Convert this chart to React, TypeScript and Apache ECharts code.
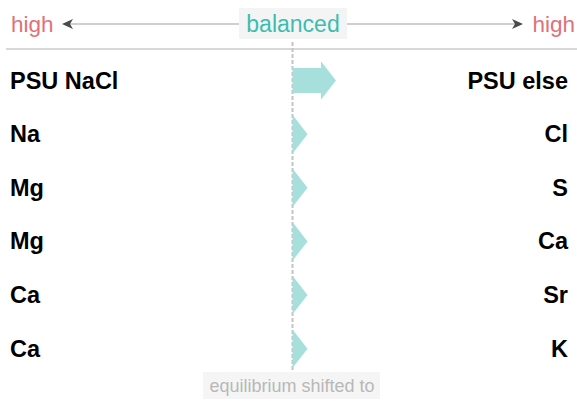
import React, { useEffect, useRef } from "react";
import * as echarts from "echarts";

const leftLabels = ["PSU NaCl", "Na", "Mg", "Mg", "Ca", "Ca"];
const rightLabels = ["PSU else", "Cl", "S", "Ca", "Sr", "K"];
const shiftValues = [0.1, 0, 0, 0, 0, 0];
const headerLeft = "high";
const headerCenter = "balanced";
const headerRight = "high";
const footerText = "equilibrium shifted to";

const ARROW = "#a6dfdb";
const RED = "#e0707a";
const TEAL = "#3dbcb0";
const FONT = "Arial, 'Liberation Sans', sans-serif";

export default function App() {
  const ref = useRef<HTMLDivElement>(null);
  useEffect(() => {
    if (!ref.current) return;
    const chart = echarts.init(ref.current, null, { renderer: "svg" });
    const cx = 292.5;
    chart.setOption({
      animation: false,
      grid: { left: 8, right: 0, top: 53.7, bottom: 27.5 },
      xAxis: { type: "value", min: -1, max: 1, show: false },
      yAxis: [
        {
          type: "category",
          data: leftLabels,
          inverse: true,
          position: "left",
          axisLine: { show: false },
          axisTick: { show: false },
          splitLine: { show: false },
          axisLabel: {
            inside: true,
            margin: 2,
            align: "left",
            fontWeight: "bold",
            fontSize: 23.5,
            color: "#000",
            fontFamily: FONT,
          },
        },
        {
          type: "category",
          data: rightLabels,
          inverse: true,
          position: "right",
          axisLine: { show: false },
          axisTick: { show: false },
          splitLine: { show: false },
          axisLabel: {
            inside: true,
            margin: 9,
            align: "right",
            fontWeight: "bold",
            fontSize: 23.5,
            color: "#000",
            fontFamily: FONT,
          },
        },
      ],
      graphic: [
        { type: "line", shape: { x1: 6, y1: 49, x2: 577, y2: 49 }, style: { stroke: "#d8d8d8", lineWidth: 2 }, z: 1 },
        { type: "line", shape: { x1: cx, y1: 42, x2: cx, y2: 376 }, style: { stroke: "#c4c4c4", lineWidth: 2, lineDash: [4, 2] }, z: 2 },
        { type: "line", shape: { x1: 70, y1: 24, x2: 239, y2: 24 }, style: { stroke: "#cfcfcf", lineWidth: 2 } },
        { type: "line", shape: { x1: 347, y1: 24, x2: 515, y2: 24 }, style: { stroke: "#cfcfcf", lineWidth: 2 } },
        { type: "polygon", shape: { points: [[62, 24], [73, 19], [70, 24], [73, 29]] }, style: { fill: "#4a4a4a" } },
        { type: "polygon", shape: { points: [[523, 24], [512, 19], [515, 24], [512, 29]] }, style: { fill: "#4a4a4a" } },
        {
          type: "text",
          x: 11,
          y: 24,
          style: { text: headerLeft, fill: RED, font: `22.5px ${FONT}`, textAlign: "left", textVerticalAlign: "middle" },
        },
        {
          type: "text",
          x: 575,
          y: 24,
          style: { text: headerRight, fill: RED, font: `22.5px ${FONT}`, textAlign: "right", textVerticalAlign: "middle" },
        },
        { type: "rect", shape: { x: 239, y: 8, width: 108, height: 31 }, style: { fill: "#f4f4f4" }, z: 3 },
        {
          type: "text",
          x: 293,
          y: 23.5,
          z: 4,
          style: { text: headerCenter, fill: TEAL, font: `23px ${FONT}`, textAlign: "center", textVerticalAlign: "middle" },
        },
        { type: "rect", shape: { x: 203, y: 372, width: 177, height: 27 }, style: { fill: "#f5f5f5" }, z: 3 },
        {
          type: "text",
          x: 292,
          y: 386,
          z: 4,
          style: { text: footerText, fill: "#b8b8b8", font: `18px ${FONT}`, textAlign: "center", textVerticalAlign: "middle" },
        },
      ],
      series: [
        {
          type: "custom",
          xAxisIndex: 0,
          yAxisIndex: 0,
          data: shiftValues.map((v, i) => [v, i]),
          z: 5,
          renderItem: (params: any, api: any) => {
            const v = api.value(0);
            const idx = api.value(1);
            const p0 = api.coord([0, idx]);
            const p1 = api.coord([v, idx]);
            const band = api.size([0, 1])[1];
            const bh = band * 0.235;
            const hh = band * 0.36;
            const hw = band * 0.28;
            const y = p0[1];
            const x0 = p0[0];
            const x1 = p1[0];
            const pts =
              x1 - x0 > 0.5
                ? [
                    [x0, y - bh],
                    [x1, y - bh],
                    [x1, y - hh],
                    [x1 + hw, y],
                    [x1, y + hh],
                    [x1, y + bh],
                    [x0, y + bh],
                  ]
                : [
                    [x0, y - hh],
                    [x0 + hw, y],
                    [x0, y + hh],
                  ];
            return {
              type: "polygon",
              shape: { points: pts },
              style: { fill: ARROW },
            };
          },
        },
      ],
    });
    return () => chart.dispose();
  }, []);
  return (
    <div
      ref={ref}
      style={{ position: "fixed", left: 0, top: 0, width: 577, height: 403, background: "#fff" }}
    />
  );
}
